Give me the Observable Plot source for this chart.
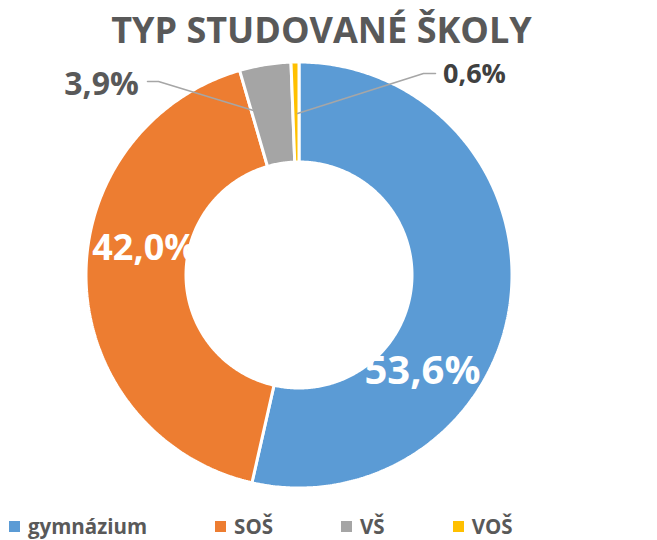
<!DOCTYPE html>
<html>
<head>
<meta charset="utf-8">
<script src="https://cdn.jsdelivr.net/npm/d3@7"></script>
<script src="https://cdn.jsdelivr.net/npm/@observablehq/plot@0.6"></script>
<style>
  html, body { margin: 0; padding: 0; background: #fff; }
  body { width: 657px; height: 540px; position: relative; overflow: hidden; font-family: "Open Sans", sans-serif; }
  #title { position: absolute; left: 0; top: 0; width: 643px; height: 55px; line-height: 60px; text-align: center;
           font-size: 36px; font-weight: 700; color: #595959; }
  #chart { position: absolute; left: 0; top: 55px; }
  #legend { position: absolute; left: 9px; top: 512px; width: 648px; height: 28px; }
  #legend .lg-swatches { min-height: 0 !important; height: 28px; line-height: 28px; margin: 0 !important; }
  #legend .lg-swatch { margin-right: 68px !important; }
  #legend .lg-swatch > svg { margin-right: 8px !important; }
</style>
</head>
<body>
<div id="title"></div>
<div id="chart"></div>
<div id="legend"></div>
<script>
const titleText = "TYP STUDOVANÉ ŠKOLY";
const categories = ["gymnázium", "SOŠ", "VŠ", "VOŠ"];
const values = [53.6, 42.0, 3.9, 0.6];
const labels = ["53,6%", "42,0%", "3,9%", "0,6%"];
const colors = ["#5B9BD5", "#ED7D31", "#A5A5A5", "#FFC000"];

// layout (pixels relative to donut centre, y up)
const W = 657, H = 457, CX = 299, CY = 220;
const R_OUT = 213, R_IN = 113;
const labelLayout = [
  {x: 123, y: -96, size: 40, fill: "#ffffff", anchor: "middle"},
  {x: -155, y: 27.5, size: 36, fill: "#ffffff", anchor: "middle"},
  {x: -198, y: 191, size: 32, fill: "#595959", anchor: "middle"},
  {x: 175, y: 201, size: 27, fill: "#404040", anchor: "middle"}
];
const leaderLayout = {
  2: [[-152, 194], [-141, 194], [-46, 165]],
  3: [[136, 202], [124, 202], [-2, 162]]
};

document.getElementById("title").textContent = titleText;

const pie = d3.pie().sort(null).value(d => d)(values);

// ring sector outlines sampled along the angle
const arcPts = [];
pie.forEach((p, i) => {
  const n = Math.max(4, Math.ceil((p.endAngle - p.startAngle) / 0.01));
  for (let k = 0; k <= n; k++) {
    const a = p.startAngle + (p.endAngle - p.startAngle) * k / n;
    arcPts.push({
      cat: categories[i],
      xi: R_IN * Math.sin(a), yi: R_IN * Math.cos(a),
      xo: R_OUT * Math.sin(a), yo: R_OUT * Math.cos(a)
    });
  }
});

const labelData = categories.map((c, i) => ({cat: c, text: labels[i], ...labelLayout[i]}));
const leaderData = [];
Object.entries(leaderLayout).forEach(([i, pts]) => pts.forEach(([x, y]) => leaderData.push({cat: categories[i], x, y})));

const colorScale = {type: "ordinal", domain: categories, range: colors};

const plot = Plot.plot({
  width: W, height: H,
  margin: 0,
  x: {domain: [-CX, W - CX], range: [0, W], axis: null},
  y: {domain: [-(H - CY), CY], range: [H, 0], axis: null},
  color: colorScale,
  style: {fontFamily: "Open Sans, sans-serif", background: "#fff"},
  marks: [
    Plot.area(arcPts, {x1: "xi", y1: "yi", x2: "xo", y2: "yo", z: "cat", fill: "cat",
                       stroke: "#ffffff", strokeWidth: 3, strokeLinejoin: "miter", curve: "linear"}),
    Plot.line(leaderData, {x: "x", y: "y", z: "cat", stroke: "#A6A6A6", strokeWidth: 1.5}),
    ...labelData.map(d => Plot.text([d], {x: "x", y: "y", text: "text", fill: d.fill, fontSize: d.size,
                                           fontWeight: 700, textAnchor: d.anchor}))
  ]
});
document.getElementById("chart").appendChild(plot);

const legend = Plot.legend({
  color: colorScale, className: "lg", swatchSize: 11,
  style: {fontFamily: "Open Sans, sans-serif", fontSize: "20.5px", fontWeight: 700, color: "#595959"}
});
document.getElementById("legend").appendChild(legend);
</script>
</body>
</html>
